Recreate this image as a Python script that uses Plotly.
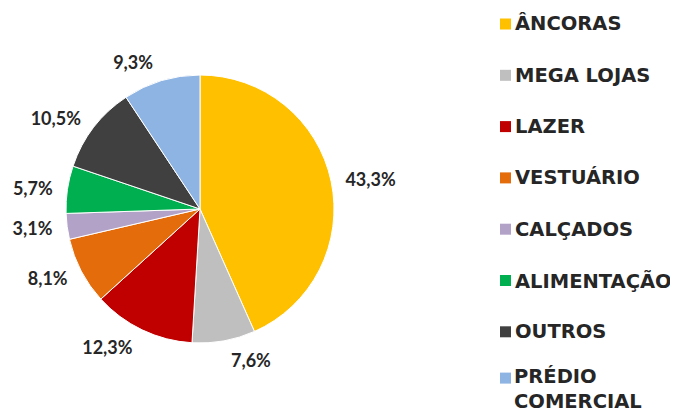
import plotly.graph_objects as go

categories = ["ÂNCORAS", "MEGA LOJAS", "LAZER", "VESTUÁRIO", "CALÇADOS",
              "ALIMENTAÇÃO", "OUTROS", "PRÉDIO<br>COMERCIAL"]
values = [43.3, 7.6, 12.3, 8.1, 3.1, 5.7, 10.5, 9.3]
colors = ["#FFC000", "#BFBFBF", "#C00000", "#E46C0A", "#B3A2C7",
          "#00B050", "#404040", "#8EB4E3"]

W, H = 678, 412
OFF = 8  # page body margin
TXT = "#262626"

texts = [f"{v:.1f}".replace(".", ",") + "%" for v in values]
labels = [c.replace("<br>", " ") for c in categories]


def px_x(x):
    return (x - OFF) / W


def px_y(y):
    return 1 - (y - OFF) / H


# pie geometry (screen pixels)
cx, cy, r = 200, 209, 134


def dom(rad):
    return dict(x=[px_x(cx - rad), px_x(cx + rad)], y=[px_y(cy + rad), px_y(cy - rad)])


common = dict(labels=labels, values=values, sort=False, direction="clockwise",
              rotation=0, hoverinfo="skip", showlegend=False)

# label carrier (slightly larger, invisible) so labels sit a bit further out
fig = go.Figure(go.Pie(
    **common,
    text=texts,
    texttemplate="%{text}",
    textposition="outside",
    marker=dict(colors=["rgba(0,0,0,0)"] * len(values), line=dict(width=0)),
    outsidetextfont=dict(family="Lato", size=18, color=TXT, weight="bold"),
    domain=dom(r + 9),
))
fig.add_trace(go.Pie(
    **common,
    textinfo="none",
    marker=dict(colors=colors, line=dict(color="white", width=1)),
    domain=dom(r),
))

# manual legend
shapes, annotations = [], []
y0, step, sq = 24, 51.3, 11
x_sq, x_txt = 500, 513
font = dict(family="DejaVu Sans", size=19.5, color=TXT, weight="bold")
for i, (lab, col) in enumerate(zip(categories, colors)):
    yc = y0 + i * step
    if "<br>" in lab:
        yc -= 5
    shapes.append(dict(type="rect", xref="paper", yref="paper",
                       x0=px_x(x_sq), x1=px_x(x_sq + sq),
                       y0=px_y(yc + sq / 2), y1=px_y(yc - sq / 2),
                       fillcolor=col, line=dict(width=0)))
    if "<br>" in lab:
        annotations.append(dict(xref="paper", yref="paper", x=px_x(x_txt),
                                y=px_y(yc - 14), xanchor="left", yanchor="top",
                                text=lab, showarrow=False, align="left",
                                borderpad=0, font=font))
    else:
        annotations.append(dict(xref="paper", yref="paper", x=px_x(x_txt),
                                y=px_y(yc), xanchor="left", yanchor="middle",
                                text=lab, showarrow=False, font=font))

fig.update_layout(
    width=W, height=H,
    margin=dict(l=0, r=0, t=0, b=0),
    paper_bgcolor="white", plot_bgcolor="white",
    shapes=shapes, annotations=annotations,
)

fig.write_html("out.html")
